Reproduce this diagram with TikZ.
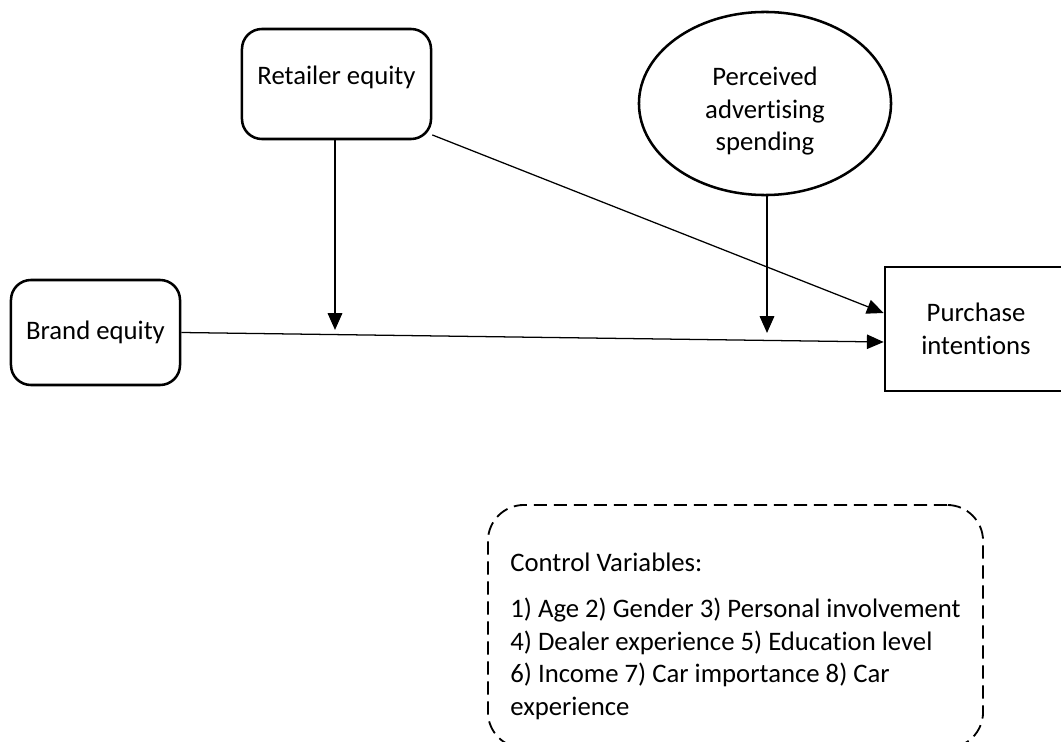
\documentclass[tikz,border=0pt]{standalone}
\usepackage{fontspec}
\setmainfont{Carlito}[Ligatures={NoCommon}]
\usetikzlibrary{arrows.meta,shapes.geometric}

\tikzset{
	varbox/.style={draw, line width=1.8pt, rounded corners=0.5cm, align=center, inner sep=0pt},
	advbox/.style={draw, ellipse, line width=1.8pt, align=center, inner sep=0pt},
	outbox/.style={draw, line width=1.8pt, align=center, inner sep=0pt},
	ctrlbox/.style={draw, line width=1.3pt, dash pattern=on 0.33cm off 0.17cm, rounded corners=0.9cm, align=left, inner sep=0pt},
	pathline/.style={line width=0.9pt, -{Triangle[length=0.42cm, width=0.36cm]}},
	modline/.style={line width=1.4pt, -{Triangle[length=0.42cm, width=0.36cm]}}
}

\begin{document}
\begin{tikzpicture}[x=0.025cm, y=-0.025cm, every node/.style={font=\fontsize{19}{23.2}\selectfont}]
		%%%%% START %%%%%
		\useasboundingbox (0,0) rectangle (1061,742);
		
		\node[varbox, minimum width=4.725cm, minimum height=2.75cm, text depth=0.42cm] (retailer) at (336.5,84) {Retailer equity};
		\node[advbox, minimum width=6.3cm, minimum height=4.575cm] (advert) at (765,103.5) {\rule{0pt}{24pt}Perceived\\advertising\\spending};
		\node[varbox, minimum width=4.225cm, minimum height=2.625cm] (brand) at (95.5,332.5) {Brand equity};
		\node[outbox, minimum width=4.55cm, minimum height=3.1cm] (purchase) at (976,329) {Purchase\\intentions};
		
		\coordinate (modA) at (335,330);
		\coordinate (modB) at (767,333);
		
		\draw[pathline] (retailer.-28) -- ([yshift=0.4cm]purchase.west);
		\draw[pathline] (brand.east) -- ([yshift=-0.325cm]purchase.west);
		\draw[modline] (retailer.south -| modA) -- (modA);
		\draw[modline] (advert.south -| modB) -- (modB);
		
		\node[ctrlbox, minimum width=12.375cm, minimum height=6.075cm] (control) at (735.5,626.5) {\rule{0pt}{27pt}Control Variables:\\[0.35cm]1) Age 2) Gender 3) Personal involvement\\4) Dealer experience 5) Education level\\6) Income 7) Car importance 8) Car\\experience};
		
		%%%%% END %%%%%
\end{tikzpicture}
\end{document}
